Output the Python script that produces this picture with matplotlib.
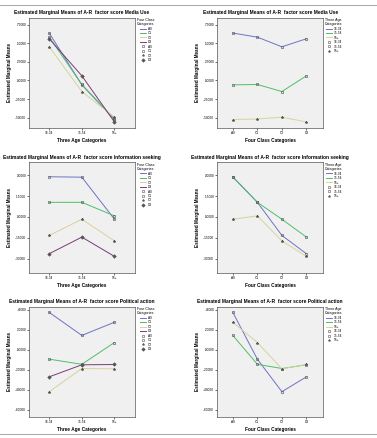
import numpy as np
import matplotlib.pyplot as plt
from matplotlib.ticker import FuncFormatter
from matplotlib.lines import Line2D

plt.rcParams['font.family'] = ['Liberation Sans', 'DejaVu Sans']

ages = ['16-34', '35-54', '55+']
classes = ['A0', 'C1', 'C2', 'D3']

# estimated marginal means, rows = age group, cols = class
media_use = [[0.64, 0.585, 0.455, 0.563],
             [-0.059, -0.054, -0.149, 0.063],
             [-0.527, -0.52, -0.495, -0.56]]
info_seeking = [[0.288, 0.105, -0.132, -0.263],
                [0.285, 0.105, -0.016, -0.144],
                [-0.016, 0.008, -0.171, -0.282]]
political = [[0.372, -0.094, -0.418, -0.27],
             [0.143, -0.145, -0.187, -0.15],
             [0.274, 0.072, -0.19, -0.147]]

factor_names = ['Media Use', 'Information seeking', 'Political action']
factor_data = [media_use, info_seeking, political]
y_ticks = [[0.75, 0.5, 0.25, 0.0, -0.25, -0.5],
           [0.3, 0.15, 0.0, -0.15, -0.3],
           [0.4, 0.2, 0.0, -0.2, -0.4, -0.6]]
y_lims = [(-0.64, 0.85), (-0.40, 0.39), (-0.67, 0.43)]

colors = ['#6f72c8', '#4cbf6a', '#d8d29c', '#7c3a78']
markers = ['o', 's', '*', 'D']


def fmt(v, pos):
    s = f"{v:.5f}"
    return s.replace('0.', '.', 1)


fig = plt.figure(figsize=(3.77, 4.38), dpi=100)
bottoms = [0.708, 0.377, 0.048]
lefts = [0.077, 0.576]

for r in range(3):
    data = np.array(factor_data[r])
    for c in range(2):
        ax = fig.add_axes([lefts[c], bottoms[r], 0.281, 0.252])
        ax.set_facecolor('#f0f0f0')
        if c == 0:
            # x = age, one line per class
            xs = np.arange(len(ages))
            series = [data[:, j] for j in range(len(classes))]
            names = classes
            xl = ages
            xlabel = 'Three Age Categories'
            leg_title = 'Four Class\nCategories'
            ax.set_xlim(-0.62, 2.63)
        else:
            xs = np.arange(len(classes))
            series = [data[i, :] for i in range(len(ages))]
            names = ages
            xl = classes
            xlabel = 'Four Class Categories'
            leg_title = 'Three Age\nCategories'
            ax.set_xlim(-0.64, 3.68)
        for k, s in enumerate(series):
            ax.plot(xs, s, color=colors[k], lw=0.7)
            ax.plot(xs, s, ls='none', marker=markers[k], ms=1.8,
                    mfc='none' if k < 2 else '#555555', mec='#555555', mew=0.45)
        ax.set_xticks(xs)
        ax.set_xticklabels(xl, fontsize=2.3)
        ax.set_yticks(y_ticks[r])
        ax.yaxis.set_major_formatter(FuncFormatter(fmt))
        ax.set_ylim(*y_lims[r])
        ax.tick_params(labelsize=2.3, length=1.2, width=0.4, pad=1)
        for sp in ax.spines.values():
            sp.set_linewidth(0.5)
            sp.set_color('#555555')
        ax.set_title('Estimated Marginal Means of A-R  factor score ' + factor_names[r],
                     fontsize=3.5, fontweight='bold', pad=2.5)
        ax.set_xlabel(xlabel, fontsize=3.4, fontweight='bold', labelpad=2)
        ax.set_ylabel('Estimated Marginal Means', fontsize=3.3, fontweight='bold', labelpad=2)

        handles = [Line2D([], [], color=colors[k], lw=0.7) for k in range(len(names))]
        handles += [Line2D([], [], ls='none', marker=markers[k], ms=1.8,
                           mfc='none' if k < 2 else '#555555', mec='#555555', mew=0.4)
                    for k in range(len(names))]
        leg = ax.legend(handles, list(names) + list(names), title=leg_title,
                        loc='upper left', bbox_to_anchor=(1.0, 1.02), frameon=False,
                        fontsize=2.3, title_fontsize=2.6, handlelength=2.0,
                        labelspacing=0.15, handletextpad=0.4, borderaxespad=0.3)

# separator lines
fig.add_artist(Line2D([0.0, 1.0], [0.988, 0.988], color='#999999', lw=0.6))
fig.add_artist(Line2D([0.0, 1.0], [0.008, 0.008], color='#999999', lw=0.6))

plt.savefig('out.png', dpi=100)
